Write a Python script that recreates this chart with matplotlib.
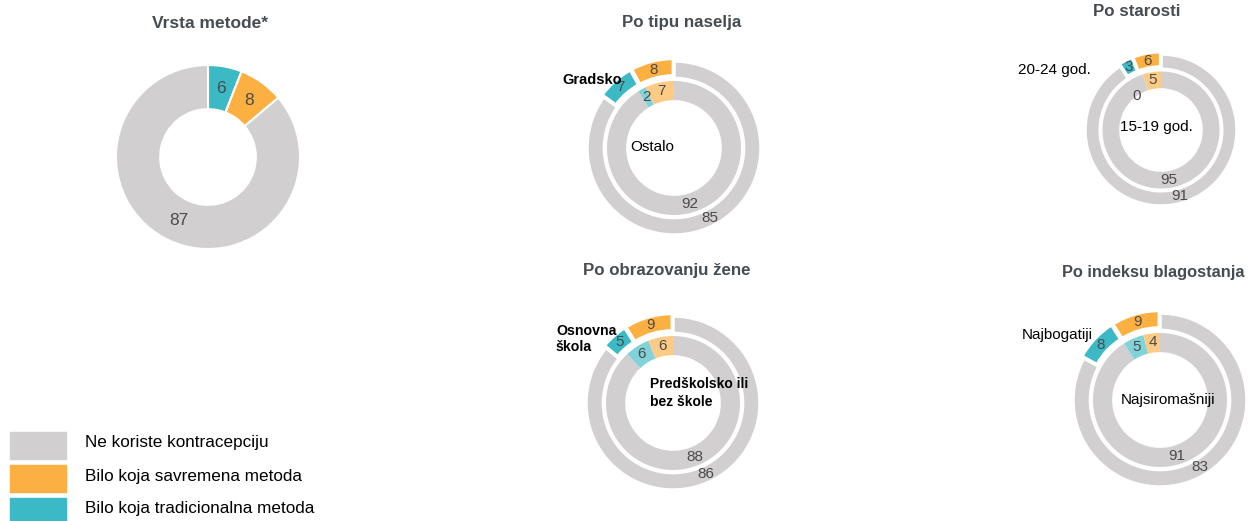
import numpy as np
import matplotlib
matplotlib.use("Agg")
import matplotlib.pyplot as plt

W, H = 1250, 521

# boje
SIVA = "#D1CFD0"
NARANDZ = "#FDB042"
TIRKIZ = "#3BB9C5"
NARANDZ_SV = "#FECB86"
TIRKIZ_SV = "#82D2DA"
TXT = "#4B4B4B"
NASLOV = "#454C52"

# podaci
vrsta_vrijednosti = [6, 8, 87]          # tradicionalna, savremena, ne koriste

naselje_gradsko = [85, 7, 8]            # ne koriste, tradicionalna, savremena
naselje_ostalo = [92, 2, 7]

starost_20_24 = [91, 3, 6]
starost_15_19 = [95, 0, 5]

obraz_osnovna = [86, 5, 9]
obraz_predskolsko = [88, 6, 6]

blag_najbogatiji = [83, 8, 9]
blag_najsiromasniji = [91, 5, 4]

legenda = ["Ne koriste kontracepciju", "Bilo koja savremena metoda",
           "Bilo koja tradicionalna metoda"]
legenda_boje = [SIVA, NARANDZ, TIRKIZ]

plt.rcParams["font.family"] = ["Liberation Sans", "DejaVu Sans"]

fig = plt.figure(figsize=(W / 100, H / 100), dpi=100)


def px(x, y):
    return x / W, 1 - y / H


def donut_ax(cx, cy, R, lim=1.2):
    s = R * lim
    ax = fig.add_axes([(cx - s) / W, 1 - (cy + s) / H, 2 * s / W, 2 * s / H])
    ax.axis("off")
    return ax


def granice(ax, lim=1.2):
    ax.set_xlim(-lim, lim)
    ax.set_ylim(-lim, lim)
    ax.set_aspect("equal")


def oznake(ax, wedges, vals, r_mid, size, zero_r=None):
    for w, v in zip(wedges, vals):
        ang = np.deg2rad((w.theta1 + w.theta2) / 2)
        r = r_mid
        if v == 0 and zero_r is not None:
            ang += np.deg2rad(18)
            r = zero_r
        x = w.center[0] + r * np.cos(ang)
        y = w.center[1] + r * np.sin(ang)
        ax.text(x, y, str(v), ha="center", va="center", fontsize=size,
                color=TXT, clip_on=False)


def naslov(cx, cy, t, size=12.2):
    fig.text(*px(cx, cy), t, ha="center", va="center", fontsize=size,
             fontweight="bold", color=NASLOV)


# 1) Vrsta metode
ax = donut_ax(208, 157, 92)
w, _ = ax.pie(vrsta_vrijednosti, colors=[TIRKIZ, NARANDZ, SIVA], startangle=90,
              counterclock=False, radius=1,
              wedgeprops=dict(width=0.48, edgecolor="white", linewidth=1.5))
for p in w:
    p.set_clip_on(False)
granice(ax)
oznake(ax, w, vrsta_vrijednosti, 0.76, 12.5)
naslov(210, 24, "Vrsta metode*", 12.5)


def dvostruki(cx, cy, R, spolja, unutra, zero_r=None):
    ax = donut_ax(cx, cy, R)
    w1, _ = ax.pie(spolja, colors=[SIVA, TIRKIZ, NARANDZ], startangle=90,
                   counterclock=False, radius=1, explode=[0, 0.03, 0.03],
                   wedgeprops=dict(width=0.2, edgecolor="white", linewidth=2.5))
    w2, _ = ax.pie(unutra, colors=[SIVA, TIRKIZ_SV, NARANDZ_SV], startangle=90,
                   counterclock=False, radius=0.77,
                   wedgeprops=dict(width=0.22, linewidth=0))
    for p in list(w1) + list(w2):
        p.set_clip_on(False)
    granice(ax)
    oznake(ax, w1, spolja, 0.9, 11)
    oznake(ax, w2, unutra, 0.67, 11, zero_r=zero_r)
    return ax


# 2) Po tipu naselja
dvostruki(674, 148, 87, naselje_gradsko, naselje_ostalo)
naslov(682, 22, "Po tipu naselja")
fig.text(*px(622, 80), "Gradsko", ha="right", va="center", fontsize=10.5,
         fontweight="bold", color="black")
fig.text(*px(630, 147), "Ostalo", ha="left", va="center", fontsize=11, color="black")

# 3) Po starosti
dvostruki(1161, 130, 76, starost_20_24, starost_15_19, zero_r=0.55)
naslov(1137, 11, "Po starosti")
fig.text(*px(1091, 70), "20-24 god.", ha="right", va="center", fontsize=11, color="black")
fig.text(*px(1156, 127), "15-19 god.", ha="center", va="center", fontsize=11, color="black")

# 4) Po obrazovanju zene
dvostruki(673, 403, 87, obraz_osnovna, obraz_predskolsko)
naslov(667, 271, "Po obrazovanju žene")
fig.text(*px(556, 339), "Osnovna\nškola", ha="left", va="center", fontsize=10.2,
         fontweight="bold", color="black", linespacing=1.25)
fig.text(*px(650, 393), "Predškolsko ili\nbez škole", ha="left", va="center",
         fontsize=10, fontweight="bold", color="black", linespacing=1.3)

# 5) Po indeksu blagostanja
dvostruki(1160, 400, 87, blag_najbogatiji, blag_najsiromasniji)
naslov(1153, 272, "Po indeksu blagostanja", 11.8)
fig.text(*px(1093, 335), "Najbogatiji", ha="right", va="center", fontsize=11, color="black")
fig.text(*px(1168, 400), "Najsiromašniji", ha="center", va="center", fontsize=11, color="black")

# legenda (u pikselima figure)
lax = fig.add_axes([0, 0, 1, 1], zorder=-1)
lax.set_xlim(0, W)
lax.set_ylim(H, 0)
lax.axis("off")
for i, (lab, c) in enumerate(zip(legenda, legenda_boje)):
    y0 = 432 + i * 33
    lax.add_patch(plt.Rectangle((10, y0), 56, 27, color=c, clip_on=False))
    lax.text(85, y0 + 11, lab, ha="left", va="center", fontsize=12.3, color="black")

fig.savefig("out.png", dpi=100)
